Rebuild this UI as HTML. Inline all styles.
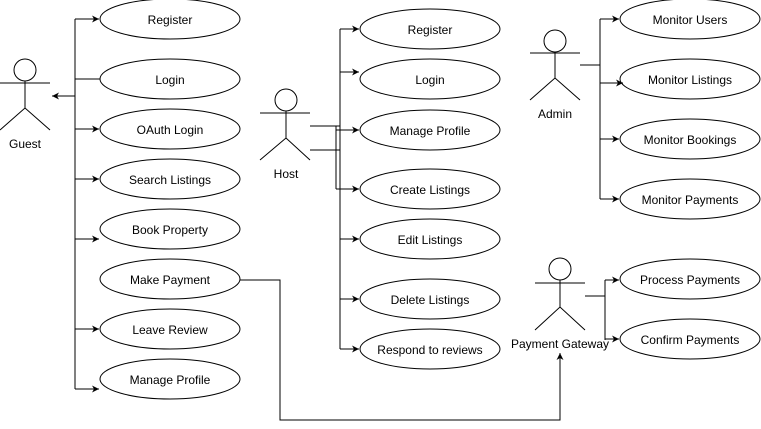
<!DOCTYPE html>
<html><head><meta charset="utf-8"><style>body{margin:0;background:#fff}svg{display:block}text{font-family:"Liberation Sans",Arial,sans-serif;font-size:12px;fill:#000;text-anchor:middle;dominant-baseline:middle}</style></head><body>
<svg width="761" height="429" viewBox="0 0 761 429" xmlns="http://www.w3.org/2000/svg">
<defs><marker id="a" markerWidth="8" markerHeight="8" refX="7" refY="4" orient="auto" markerUnits="userSpaceOnUse"><path d="M0,0.5 L7,4 L0,7.5 L2,4 Z" fill="#000"/></marker></defs>
<g fill="#fff" stroke="#000" stroke-width="1">
<ellipse cx="170" cy="19" rx="70" ry="20"/><ellipse cx="170" cy="79" rx="70" ry="20"/><ellipse cx="170" cy="129" rx="70" ry="20"/><ellipse cx="170" cy="179" rx="70" ry="20"/><ellipse cx="170" cy="229" rx="70" ry="20"/><ellipse cx="170" cy="279" rx="70" ry="20"/><ellipse cx="170" cy="329" rx="70" ry="20"/><ellipse cx="170" cy="379" rx="70" ry="20"/>
<ellipse cx="430" cy="29" rx="70" ry="20"/><ellipse cx="430" cy="79" rx="70" ry="20"/><ellipse cx="430" cy="130" rx="70" ry="20"/><ellipse cx="430" cy="189" rx="70" ry="20"/><ellipse cx="430" cy="239" rx="70" ry="20"/><ellipse cx="430" cy="299" rx="70" ry="20"/><ellipse cx="430" cy="349" rx="70" ry="20"/>
<ellipse cx="690" cy="19" rx="70" ry="20"/><ellipse cx="690" cy="79" rx="70" ry="20"/><ellipse cx="690" cy="139" rx="70" ry="20"/><ellipse cx="690" cy="199" rx="70" ry="20"/>
<ellipse cx="690" cy="279" rx="70" ry="20"/><ellipse cx="690" cy="339" rx="70" ry="20"/>
<circle cx="25" cy="70" r="11"/><circle cx="286" cy="100" r="11"/><circle cx="555" cy="41" r="11"/><circle cx="560" cy="269" r="11"/>
</g>
<g fill="none" stroke="#000" stroke-width="1">
<path d="M25,81V108M0,83H50M0,130L25,108L50,130"/>
<path d="M286,111V138M260,113H310M260,160L286,138L310,160"/>
<path d="M555,52V78M530,53H580M530,100L555,78L580,100"/>
<path d="M560,280V307M535,283H585M535,330L560,307L585,330"/>
<path d="M75,19V389M75,79H100"/>
<path d="M75,96H52" marker-end="url(#a)"/>
<path d="M75,19H99" marker-end="url(#a)"/><path d="M75,129H99" marker-end="url(#a)"/><path d="M75,179H99" marker-end="url(#a)"/><path d="M75,239H99" marker-end="url(#a)"/><path d="M75,329H99" marker-end="url(#a)"/><path d="M75,389H99" marker-end="url(#a)"/>
<path d="M310,126H340M310,150H340M340,29V349M336,126V189"/>
<path d="M340,29H359" marker-end="url(#a)"/><path d="M340,72H359" marker-end="url(#a)"/><path d="M336,130H359" marker-end="url(#a)"/><path d="M336,189H359" marker-end="url(#a)"/><path d="M340,239H359" marker-end="url(#a)"/><path d="M340,299H359" marker-end="url(#a)"/><path d="M340,349H359" marker-end="url(#a)"/>
<path d="M580,65H600M600,19V199"/>
<path d="M600,19H619" marker-end="url(#a)"/><path d="M600,83H623" marker-end="url(#a)"/><path d="M600,139H619" marker-end="url(#a)"/><path d="M600,199H619" marker-end="url(#a)"/>
<path d="M585,296H605M605,280V340"/>
<path d="M605,280H619" marker-end="url(#a)"/><path d="M605,339H619" marker-end="url(#a)"/>
<path d="M240,280H280V420H560V353" marker-end="url(#a)"/>
</g>
<g transform="translate(0,2)">
<text x="25" y="143">Guest</text><text x="286" y="173">Host</text><text x="555" y="113">Admin</text><text x="560" y="343">Payment Gateway</text>
<text x="170" y="19">Register</text><text x="170" y="79">Login</text><text x="170" y="129">OAuth Login</text><text x="170" y="179">Search Listings</text><text x="170" y="229">Book Property</text><text x="170" y="279">Make Payment</text><text x="170" y="329">Leave Review</text><text x="170" y="379">Manage Profile</text>
<text x="430" y="29">Register</text><text x="430" y="79">Login</text><text x="430" y="130">Manage Profile</text><text x="430" y="189">Create Listings</text><text x="430" y="239">Edit Listings</text><text x="430" y="299">Delete Listings</text><text x="430" y="349">Respond to reviews</text>
<text x="690" y="19">Monitor Users</text><text x="690" y="79">Monitor Listings</text><text x="690" y="139">Monitor Bookings</text><text x="690" y="199">Monitor Payments</text><text x="690" y="279">Process Payments</text><text x="690" y="339">Confirm Payments</text>
</g>
</svg></body></html>
